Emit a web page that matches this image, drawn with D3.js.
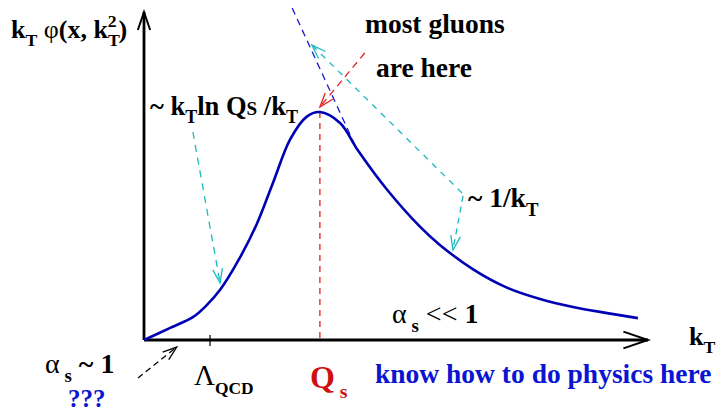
<!DOCTYPE html>
<meta charset="utf-8">
<style>
    body { margin: 0; background: #fff; }
    svg text { font-family: "Liberation Serif", "Times New Roman", serif; font-weight: bold; }
</style>

<script src="https://d3js.org/d3.v7.min.js"></script>

<svg id="chart" width="717" height="413"></svg>

<script>

// Schematic gluon distribution k_T phi(x, k_T^2) vs k_T

// Data (arbitrary units: k_T along x, phi scaled to 1 at the peak)
var curveK   = [0, 0.52, 0.97, 1.25, 1.51, 1.90, 2.24, 2.56, 2.90, 3.23, 3.49, 3.89, 4.25,
                4.82, 5.48, 5.87, 6.53, 7.20, 7.86, 8.51, 9.19, 9.80];
var curvePhi = [0, 0.053, 0.10, 0.154, 0.22, 0.36, 0.51, 0.69, 0.88, 0.98, 1.0, 0.952, 0.83,
                0.66, 0.496, 0.417, 0.31, 0.23, 0.18, 0.145, 0.118, 0.096];

var lambdaQCD = 1.31;      // position of the Lambda_QCD tick
var satScale  = 3.49;      // Q_s, at the peak

// Annotation arrows, [from, to] in data units
var tangentLine  = [[2.94, 1.456], [4.23, 0.833]];
var redArrow     = [[4.38, 1.259], [3.49, 1.022]];
var cyanUpArrow  = [[6.31, 0.645], [3.33, 1.294]];
var cyanDnArrow  = [[6.33, 0.632], [6.13, 0.395]];
var cyanLowArrow = [[0.97, 0.912], [1.51, 0.250]];
var blackArrow   = [[-0.12, -0.167], [0.65, -0.031]];


// Setup

var svg = d3.select('svg#chart');

var x = d3.scaleLinear().domain([0, 10]).range([144, 648]);
var y = d3.scaleLinear().domain([0, 1.43]).range([340, 14]);

var curveBlue = '#0000b4';
var cyan = '#1ab8c0';
var red = '#e02020';
var textBlue = '#0a14d2';


// Open chevron arrow head at 'tip', pointing away from 'from' (pixel coords)
function chevron(from, tip, color, len, width) {
    var a = Math.atan2(tip[1] - from[1], tip[0] - from[0]);
    var spread = 0.33;
    var p1 = [tip[0] - len * Math.cos(a - spread), tip[1] - len * Math.sin(a - spread)];
    var p2 = [tip[0] - len * Math.cos(a + spread), tip[1] - len * Math.sin(a + spread)];
    svg.append('path')
        .attr('d', 'M' + p1 + 'L' + tip + 'L' + p2)
        .attr('fill', 'none')
        .attr('stroke', color)
        .attr('stroke-width', width);
}

function dashedArrow(seg, color, dash, head) {
    var p0 = [x(seg[0][0]), y(seg[0][1])];
    var p1 = [x(seg[1][0]), y(seg[1][1])];
    svg.append('line')
        .attr('x1', p0[0]).attr('y1', p0[1])
        .attr('x2', p1[0]).attr('y2', p1[1])
        .attr('stroke', color)
        .attr('stroke-width', 1.3)
        .attr('stroke-dasharray', dash);
    if (head) chevron(p0, p1, color, 15, 1.3);
}


// Axes

svg.append('line')
    .attr('x1', x(0)).attr('y1', y(0))
    .attr('x2', x(0)).attr('y2', 12)
    .attr('stroke', '#000').attr('stroke-width', 2.8);
chevron([x(0), y(0)], [x(0), 12], '#000', 19, 2);

svg.append('line')
    .attr('x1', x(0)).attr('y1', y(0))
    .attr('x2', x(10)).attr('y2', y(0))
    .attr('stroke', '#000').attr('stroke-width', 2.8);
chevron([x(0), y(0)], [x(10), y(0)], '#000', 26, 2);

svg.append('line')
    .attr('x1', x(lambdaQCD)).attr('y1', y(0) - 5)
    .attr('x2', x(lambdaQCD)).attr('y2', y(0) + 6)
    .attr('stroke', '#000').attr('stroke-width', 1.2);


// Q_s marker
svg.append('line')
    .attr('x1', x(satScale)).attr('y1', y(1.0))
    .attr('x2', x(satScale)).attr('y2', y(0))
    .attr('stroke', red).attr('stroke-width', 1.3)
    .attr('stroke-dasharray', '6,5');


// Annotation lines
dashedArrow(tangentLine, '#1a1ad0', '7,5', false);
dashedArrow(redArrow, red, '7,5', true);
dashedArrow(cyanUpArrow, cyan, '6,6', true);
dashedArrow(cyanDnArrow, cyan, '6,5', true);
dashedArrow(cyanLowArrow, cyan, '7,6', true);
dashedArrow(blackArrow, '#000', '6,4', true);


// The distribution curve
var line = d3.line()
    .curve(d3.curveCatmullRom.alpha(0.5))
    .x(function (d) { return x(d[0]); })
    .y(function (d) { return y(d[1]); });

svg.append('path')
    .attr('d', line(d3.zip(curveK, curvePhi)))
    .attr('fill', 'none')
    .attr('stroke', curveBlue)
    .attr('stroke-width', 2.6);


// Labels with sub/superscripts
function rich(px, py, size, parts, color) {
    var t = svg.append('text')
        .attr('x', px).attr('y', py)
        .attr('font-size', size)
        .attr('fill', color || '#000');
    var shift = 0;
    parts.forEach(function (p) {
        if (typeof p === 'string') p = { t: p };
        var target = p.sub ? size * 0.32 : p.sup ? -size * 0.42 : 0;
        var s = t.append('tspan')
            .text(p.t)
            .attr('dy', target - shift)
            .attr('font-size', p.fs ? size * p.fs : (p.sub || p.sup) ? size * 0.68 : size);
        if (p.dx) s.attr('dx', p.dx);
        if (p.normal) s.attr('font-weight', 'normal');
        shift = target;
    });
    return t;
}

rich(11, 38, 26, ['k', { t: 'T', sub: true }, ' ', { t: '\u03c6', normal: true }, '(x, k',
    { t: 'T', sub: true }, { t: '2', sup: true, dx: -12 }, { t: ')', dx: 2 }]);

rich(150, 115, 26.5, ['~ k', { t: 'T', sub: true }, 'ln Q', { t: 'S', fs: 0.72 }, ' /k', { t: 'T', sub: true }]);

rich(365, 33, 27.5, ['most gluons']);
rich(376, 77, 27.5, ['are here']);

rich(468, 207, 27.5, ['~ 1/k', { t: 'T', sub: true }]);

rich(392, 323, 28, [{ t: '\u03b1', normal: true }, { t: ' s', sub: true }, { t: '  << ', normal: true, fs: 1 }, '1']);

rich(689, 345, 26, ['k', { t: 'T', sub: true }]);

rich(375, 383, 27.5, ['know how to do physics here'], textBlue);

rich(45, 373, 28, [{ t: '\u03b1', normal: true }, { t: ' s', sub: true }, { t: ' ~  1', fs: 1 }]);
rich(68, 407, 25, ['???'], textBlue);

rich(194, 385, 29, [{ t: '\u039b', normal: true }, { t: 'QCD', sub: true, fs: 0.6 }]);

rich(310, 388, 32, ['Q', { t: ' s', sub: true, fs: 0.62 }], '#d01010');

</script>
